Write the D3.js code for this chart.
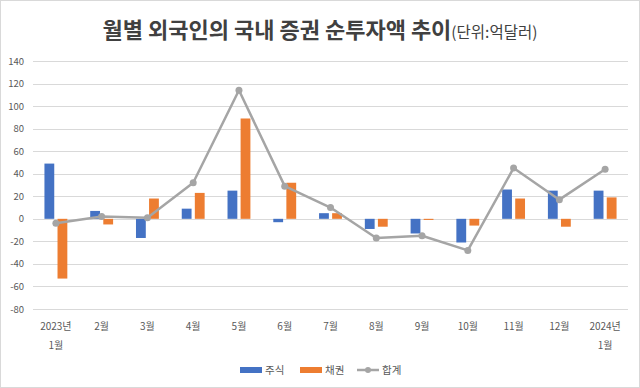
<!DOCTYPE html>
<meta charset="utf-8">
<style>
  body { margin: 0; background: #fff; }
  svg { display: block; }
  text { font-family: "Noto Sans CJK KR", "Noto Sans", sans-serif; }
</style>
<body>
<svg width="640" height="388"></svg>
<script src="https://d3js.org/d3.v7.min.js"></script>
<script>
const months = ["2023년\n1월", "2월", "3월", "4월", "5월", "6월", "7월", "8월", "9월", "10월", "11월", "12월", "2024년\n1월"];
const stocks = [49, 7, -17, 9, 25, -3, 5, -9, -13, -21, 26, 25, 25];
const bonds = [-53, -5, 18, 23, 89, 32, 5, -7, -1, -6, 18, -7, 19];
const totals = [-4, 2, 1, 32, 114, 29, 10, -17, -15, -28, 45, 17, 44];
const yTicks = [-80, -60, -40, -20, 0, 20, 40, 60, 80, 100, 120, 140];
const seriesNames = ["주식", "채권", "합계"];
const colors = ["#4472C4", "#ED7D31", "#A5A5A5"];

const svg = d3.select("svg");

// outer frame
svg.append("rect")
  .attr("x", 0.5).attr("y", 0.5)
  .attr("width", 639).attr("height", 387)
  .attr("fill", "#fff").attr("stroke", "#d9d9d9");

// title
const title = svg.append("text")
  .attr("x", 320).attr("y", 38)
  .attr("text-anchor", "middle")
  .attr("fill", "#404040");
title.append("tspan")
  .attr("font-size", 22).attr("font-weight", "bold")
  .text("월별 외국인의 국내 증권 순투자액 추이");
title.append("tspan")
  .attr("font-size", 15.5)
  .text("(단위:억달러)");

const x0 = d3.scaleBand().domain(months).range([33, 628])
  .paddingInner(0.5).paddingOuter(0.25);
const x1 = d3.scaleBand().domain([0, 1]).range([0, x0.bandwidth()]).paddingInner(0.25);
const y = d3.scaleLinear().domain([-80, 140]).range([309, 61]);

// gridlines
svg.append("g")
  .selectAll("line")
  .data(yTicks)
  .join("line")
  .attr("x1", 33).attr("x2", 628)
  .attr("y1", d => Math.round(y(d)) + 0.5)
  .attr("y2", d => Math.round(y(d)) + 0.5)
  .attr("stroke", "#d9d9d9");

// y labels
svg.append("g")
  .selectAll("text")
  .data(yTicks)
  .join("text")
  .attr("x", 24)
  .attr("y", d => y(d) + 3.5)
  .attr("text-anchor", "end")
  .attr("font-size", 9.5)
  .attr("fill", "#595959")
  .text(d => d);

// bars
const barData = months.flatMap((m, i) => [
  { m, s: 0, v: stocks[i] },
  { m, s: 1, v: bonds[i] }
]);
svg.append("g")
  .selectAll("rect")
  .data(barData)
  .join("rect")
  .attr("x", d => x0(d.m) + x1(d.s))
  .attr("width", x1.bandwidth())
  .attr("y", d => y(Math.max(0, d.v)))
  .attr("height", d => Math.abs(y(d.v) - y(0)))
  .attr("fill", d => colors[d.s]);

// total line
const cx = m => x0(m) + x0.bandwidth() / 2;
const lineData = months.map((m, i) => ({ m, v: totals[i] }));
svg.append("path")
  .datum(lineData)
  .attr("fill", "none")
  .attr("stroke", colors[2])
  .attr("stroke-width", 2.5)
  .attr("stroke-linejoin", "round")
  .attr("d", d3.line().x(d => cx(d.m)).y(d => y(d.v)));
svg.append("g")
  .selectAll("circle")
  .data(lineData)
  .join("circle")
  .attr("cx", d => cx(d.m))
  .attr("cy", d => y(d.v))
  .attr("r", 3.5)
  .attr("fill", colors[2]);

// x labels
const xl = svg.append("g")
  .selectAll("text")
  .data(months)
  .join("text")
  .attr("x", d => cx(d))
  .attr("y", 330)
  .attr("text-anchor", "middle")
  .attr("font-size", 10)
  .attr("fill", "#595959");
xl.selectAll("tspan")
  .data(d => d.split("\n").map(t => ({ t, x: cx(d) })))
  .join("tspan")
  .attr("x", d => d.x)
  .attr("dy", (d, i) => i ? 19 : 0)
  .text(d => d.t);

// legend
const legend = svg.append("g");
const lx = [240, 300, 357];
seriesNames.forEach((name, i) => {
  if (i < 2) {
    legend.append("rect")
      .attr("x", lx[i]).attr("y", 367)
      .attr("width", 22).attr("height", 6)
      .attr("fill", colors[i]);
  } else {
    legend.append("line")
      .attr("x1", lx[i]).attr("x2", lx[i] + 22)
      .attr("y1", 370).attr("y2", 370)
      .attr("stroke", colors[i]).attr("stroke-width", 2.5);
    legend.append("circle")
      .attr("cx", lx[i] + 11).attr("cy", 370).attr("r", 3)
      .attr("fill", colors[i]);
  }
  legend.append("text")
    .attr("x", lx[i] + 25).attr("y", 374)
    .attr("font-size", 10.5)
    .attr("fill", "#595959")
    .text(name);
});
</script>
</body>
